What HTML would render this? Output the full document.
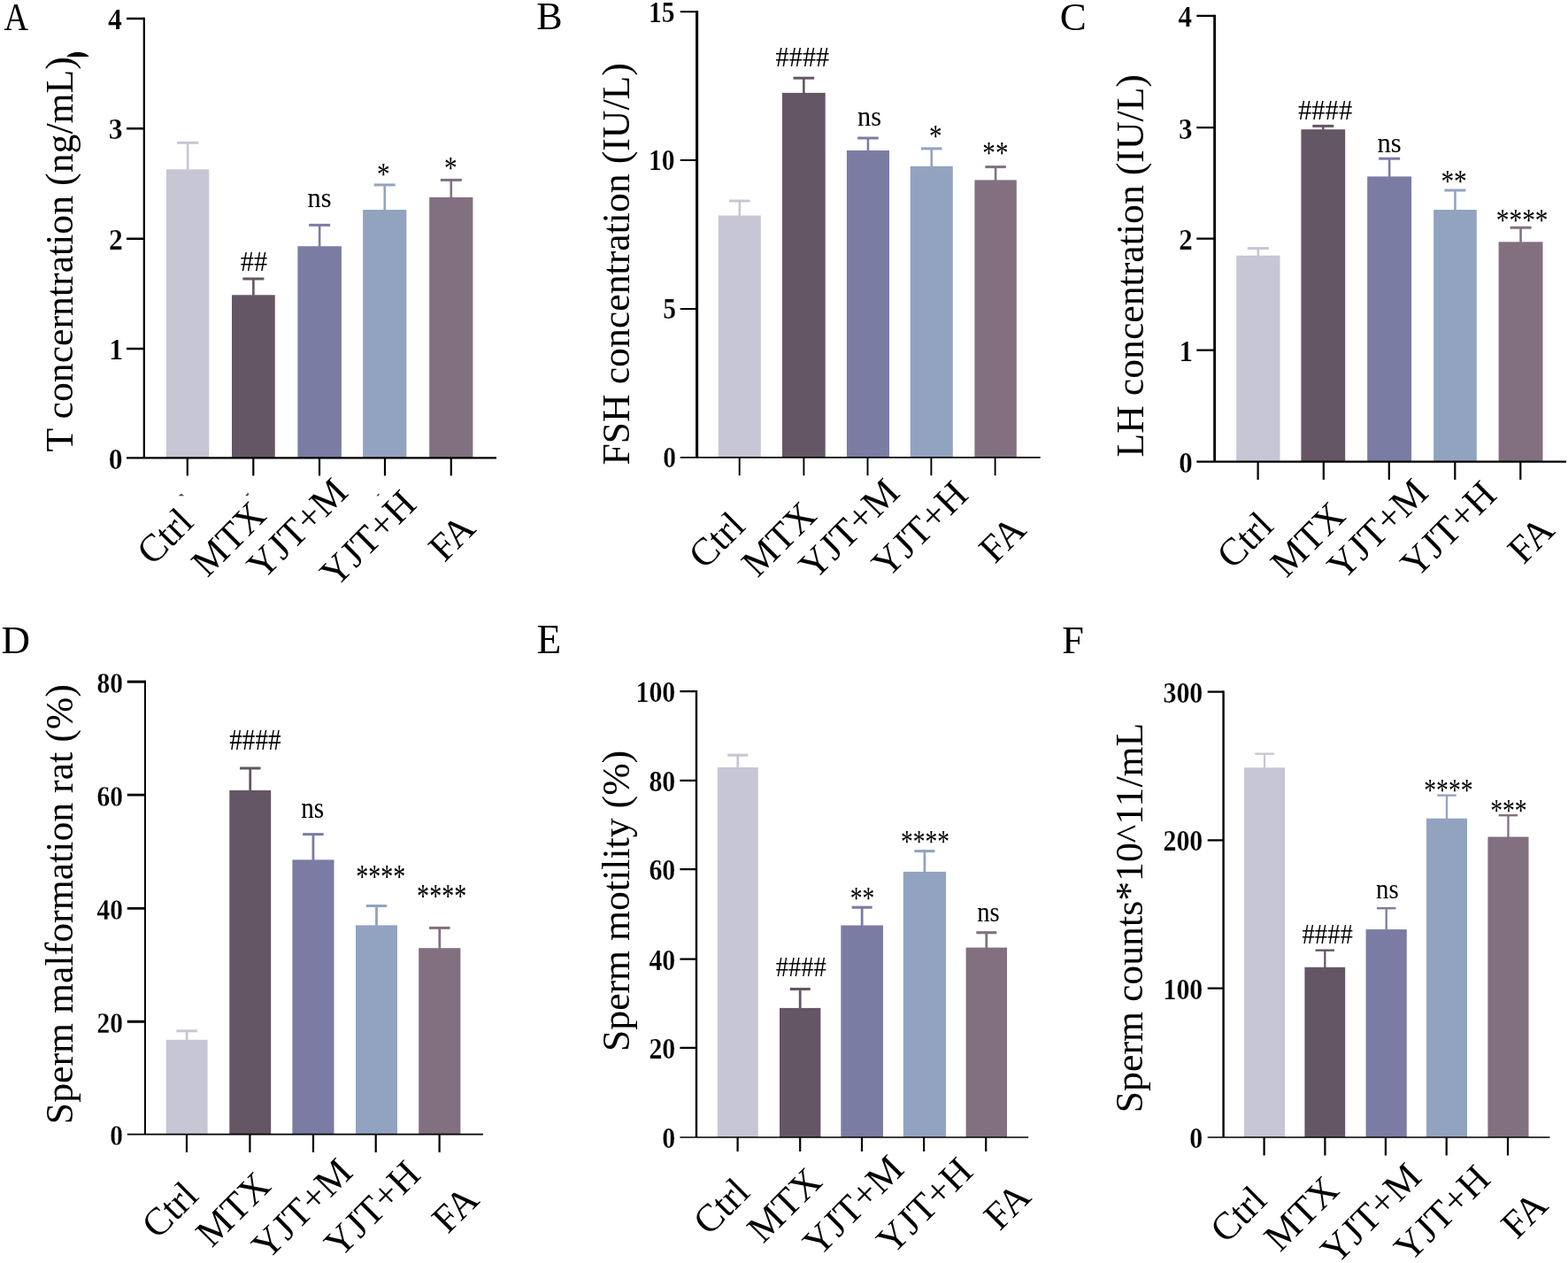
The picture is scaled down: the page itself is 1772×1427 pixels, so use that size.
<!DOCTYPE html>
<html lang="en"><head><meta charset="utf-8"><title>Figure</title>
<style>html,body{margin:0;padding:0;background:#fff}svg{display:block}text{font-family:"Liberation Serif",serif;fill:#000}.b{font-weight:bold;stroke:#fff;stroke-width:.25px}</style></head><body>
<svg width="1772" height="1427" viewBox="0 0 1772 1427">
<rect width="1772" height="1427" fill="#fff"/>
<g>
<rect x="188" y="191.3" width="48.3" height="326.1" fill="#c6c6d5"/>
<path d="M212.15 191.8V161.3" stroke="#c6c6d5" stroke-width="2.6" fill="none"/>
<path d="M200.15 161.3H224.15" stroke="#c6c6d5" stroke-width="3" fill="none"/>
<rect x="262" y="333.3" width="48.75" height="184.1" fill="#645664"/>
<path d="M286.38 333.8V315" stroke="#645664" stroke-width="2.6" fill="none"/>
<path d="M274.38 315H298.38" stroke="#645664" stroke-width="3" fill="none"/>
<rect x="336.4" y="278.2" width="49.5" height="239.2" fill="#7b7ca3"/>
<path d="M361.15 278.7V254.3" stroke="#7b7ca3" stroke-width="2.6" fill="none"/>
<path d="M349.15 254.3H373.15" stroke="#7b7ca3" stroke-width="3" fill="none"/>
<rect x="410.1" y="237" width="49.3" height="280.4" fill="#92a3c0"/>
<path d="M434.75 237.5V208.9" stroke="#92a3c0" stroke-width="2.6" fill="none"/>
<path d="M422.75 208.9H446.75" stroke="#92a3c0" stroke-width="3" fill="none"/>
<rect x="485.2" y="222.9" width="49.2" height="294.5" fill="#827080"/>
<path d="M509.8 223.4V203.4" stroke="#827080" stroke-width="2.6" fill="none"/>
<path d="M497.8 203.4H521.8" stroke="#827080" stroke-width="3" fill="none"/>
<path d="M162.8 19.75V517.4" stroke="#000" stroke-width="2.2" fill="none"/>
<path d="M143 517.4H561" stroke="#000" stroke-width="2.1" fill="none"/>
<path d="M143 393.9H162.8M143 269.7H162.8M143 145.2H162.8M143 21H162.8" stroke="#000" stroke-width="2.5" fill="none"/>
<path d="M211.8 517.4V537.5M286.3 517.4V537.5M361 517.4V537.5M435 517.4V537.5M509.8 517.4V537.5" stroke="#000" stroke-width="2.2" fill="none"/>
<text class="b" transform="translate(122.75 529.52) scale(0.93 1)" font-size="34">0</text>
<text class="b" transform="translate(123.17 406.02) scale(0.93 1)" font-size="34">1</text>
<text class="b" transform="translate(122.96 281.82) scale(0.93 1)" font-size="34">2</text>
<text class="b" transform="translate(122.64 157.32) scale(0.93 1)" font-size="34">3</text>
<text class="b" transform="translate(122.12 33.12) scale(0.93 1)" font-size="34">4</text>
<text transform="translate(271.8 305.95) scale(0.9412 1)" font-size="32.3">##</text>
<text transform="translate(347.47 234.43) scale(0.9412 1)" font-size="32.3">ns</text>
<text transform="translate(425.91 209.25) scale(0.8067 1)" font-size="36.18">*</text>
<text transform="translate(501.91 202.45) scale(0.8067 1)" font-size="36.18">*</text>
<text transform="translate(4.62 33.6) scale(0.8634 1)" font-size="44.09">A</text>
<text transform="translate(82.2 510.4) rotate(-90)" font-size="43.75">T concerntration (ng/mL)</text>
<path d="M75.4 63.9C80 57.2 96 57.2 100.6 63.9Z" fill="#000"/>
<path d="M201.6 560.3l3.2-2.6 3.6 2.6zM277.3 560l2.6-3 1.6 .6-1.4 2.6zM425.4 560.2l2.4-2.4 1.2.6-1.6 2.2z" fill="#444"/>
<text transform="translate(172.42 640.33) rotate(-45)" font-size="43.75">Ctrl</text>
<text transform="translate(234.14 653.41) rotate(-45)" font-size="43.75">MTX</text>
<text transform="translate(297.11 656.45) rotate(-45)" font-size="43.75">YJT+M</text>
<text transform="translate(379.59 664.93) rotate(-45)" font-size="43.75">YJT+H</text>
<text transform="translate(502.21 636.36) rotate(-45)" font-size="43.75">FA</text>
</g>
<g>
<rect x="811.8" y="243.5" width="48" height="273.4" fill="#c6c6d5"/>
<path d="M835.8 244V227" stroke="#c6c6d5" stroke-width="2.6" fill="none"/>
<path d="M824.05 227H847.55" stroke="#c6c6d5" stroke-width="3" fill="none"/>
<rect x="884" y="104.9" width="48.7" height="412" fill="#645664"/>
<path d="M908.35 105.4V88.2" stroke="#645664" stroke-width="2.6" fill="none"/>
<path d="M896.6 88.2H920.1" stroke="#645664" stroke-width="3" fill="none"/>
<rect x="956.9" y="170" width="48.1" height="346.9" fill="#7b7ca3"/>
<path d="M980.95 170.5V156" stroke="#7b7ca3" stroke-width="2.6" fill="none"/>
<path d="M969.2 156H992.7" stroke="#7b7ca3" stroke-width="3" fill="none"/>
<rect x="1028.7" y="187.8" width="48.1" height="329.1" fill="#92a3c0"/>
<path d="M1052.75 188.3V167.9" stroke="#92a3c0" stroke-width="2.6" fill="none"/>
<path d="M1041 167.9H1064.5" stroke="#92a3c0" stroke-width="3" fill="none"/>
<rect x="1101.4" y="203.4" width="47.4" height="313.5" fill="#827080"/>
<path d="M1125.1 203.9V188.6" stroke="#827080" stroke-width="2.6" fill="none"/>
<path d="M1113.35 188.6H1136.85" stroke="#827080" stroke-width="3" fill="none"/>
<path d="M787.6 12.2V516.9" stroke="#000" stroke-width="3.1" fill="none"/>
<path d="M768.7 516.9H1175.7" stroke="#000" stroke-width="1.6" fill="none"/>
<path d="M768.7 348.9H787.6M768.7 180.9H787.6M768.7 13.2H787.6" stroke="#000" stroke-width="2" fill="none"/>
<path d="M835.7 516.9V537.2M908.4 516.9V537.2M980.5 516.9V537.2M1052.4 516.9V537.2M1124.6 516.9V537.2" stroke="#000" stroke-width="1.9" fill="none"/>
<text class="b" transform="translate(749.3 528.49) scale(0.88 1)" font-size="33.6">0</text>
<text class="b" transform="translate(749.3 360.49) scale(0.88 1)" font-size="33.6">5</text>
<text class="b" transform="translate(732.92 192.49) scale(0.88 1)" font-size="33.6">10</text>
<text class="b" transform="translate(732.92 24.79) scale(0.88 1)" font-size="33.6">15</text>
<text transform="translate(876.6 74.95) scale(0.9381 1)" font-size="32.3">####</text>
<text transform="translate(969.07 141.58) scale(0.9381 1)" font-size="32.3">ns</text>
<text transform="translate(1049.93 165.95) scale(0.8041 1)" font-size="36.18">*</text>
<text transform="translate(1110.36 185.15) scale(0.8041 1)" font-size="36.18">**</text>
<text transform="translate(606.15 33.3)" font-size="44.01">B</text>
<text transform="translate(711 525.57) rotate(-90)" font-size="43.75">FSH concentration (IU/L)</text>
<text transform="translate(795.92 644.43) rotate(-45)" font-size="43.75">Ctrl</text>
<text transform="translate(856.09 653.71) rotate(-45)" font-size="43.75">MTX</text>
<text transform="translate(920.56 656.85) rotate(-45)" font-size="43.75">YJT+M</text>
<text transform="translate(1003.09 654.53) rotate(-45)" font-size="43.75">YJT+H</text>
<text transform="translate(1124.31 638.06) rotate(-45)" font-size="43.75">FA</text>
</g>
<g>
<rect x="1397.2" y="288.7" width="49.3" height="232.9" fill="#c6c6d5"/>
<path d="M1421.85 289.2V280.6" stroke="#c6c6d5" stroke-width="2.6" fill="none"/>
<path d="M1409.85 280.6H1433.85" stroke="#c6c6d5" stroke-width="3" fill="none"/>
<rect x="1470.4" y="146.2" width="49.8" height="375.4" fill="#645664"/>
<path d="M1495.3 146.7V142.4" stroke="#645664" stroke-width="2.6" fill="none"/>
<path d="M1483.3 142.4H1507.3" stroke="#645664" stroke-width="3" fill="none"/>
<rect x="1545.2" y="199.4" width="49.9" height="322.2" fill="#7b7ca3"/>
<path d="M1570.15 199.9V179.2" stroke="#7b7ca3" stroke-width="2.6" fill="none"/>
<path d="M1558.15 179.2H1582.15" stroke="#7b7ca3" stroke-width="3" fill="none"/>
<rect x="1620.1" y="237" width="48.7" height="284.6" fill="#92a3c0"/>
<path d="M1644.45 237.5V215" stroke="#92a3c0" stroke-width="2.6" fill="none"/>
<path d="M1632.45 215H1656.45" stroke="#92a3c0" stroke-width="3" fill="none"/>
<rect x="1693.6" y="273.3" width="49.9" height="248.3" fill="#827080"/>
<path d="M1718.55 273.8V257.2" stroke="#827080" stroke-width="2.6" fill="none"/>
<path d="M1706.55 257.2H1730.55" stroke="#827080" stroke-width="3" fill="none"/>
<path d="M1372.6 16.7V521.6" stroke="#000" stroke-width="2.8" fill="none"/>
<path d="M1352.3 521.6H1770" stroke="#000" stroke-width="2.1" fill="none"/>
<path d="M1352.3 395.6H1372.6M1352.3 269.7H1372.6M1352.3 144.2H1372.6M1352.3 17.8H1372.6" stroke="#000" stroke-width="2.2" fill="none"/>
<path d="M1421.6 521.6V541.9M1495.8 521.6V541.9M1569.8 521.6V541.9M1644.3 521.6V541.9M1718.3 521.6V541.9" stroke="#000" stroke-width="2.2" fill="none"/>
<text class="b" transform="translate(1332.16 533.92) scale(0.91 1)" font-size="34">0</text>
<text class="b" transform="translate(1332.58 407.92) scale(0.91 1)" font-size="34">1</text>
<text class="b" transform="translate(1332.37 282.02) scale(0.91 1)" font-size="34">2</text>
<text class="b" transform="translate(1332.06 156.52) scale(0.91 1)" font-size="34">3</text>
<text class="b" transform="translate(1331.55 30.12) scale(0.91 1)" font-size="34">4</text>
<text transform="translate(1467 135) scale(0.9474 1)" font-size="32.3">####</text>
<text transform="translate(1556.54 171.93) scale(0.9474 1)" font-size="32.3">ns</text>
<text transform="translate(1628.41 217) scale(0.812 1)" font-size="36.18">**</text>
<text transform="translate(1690.78 261.15) scale(0.812 1)" font-size="36.18">****</text>
<text transform="translate(1197.65 34.1)" font-size="44.99">C</text>
<text transform="translate(1291.8 516.53) rotate(-90)" font-size="43.75">LH concentration (IU/L)</text>
<text transform="translate(1393.07 644.43) rotate(-45)" font-size="43.75">Ctrl</text>
<text transform="translate(1453.74 653.96) rotate(-45)" font-size="43.75">MTX</text>
<text transform="translate(1517.71 657.1) rotate(-45)" font-size="43.75">YJT+M</text>
<text transform="translate(1600.39 654.53) rotate(-45)" font-size="43.75">YJT+H</text>
<text transform="translate(1721.71 638.66) rotate(-45)" font-size="43.75">FA</text>
</g>
<g>
<rect x="187.7" y="1174.8" width="46.9" height="106.8" fill="#c6c6d5"/>
<path d="M211.15 1175.3V1164.8" stroke="#c6c6d5" stroke-width="2.8" fill="none"/>
<path d="M199.4 1164.8H222.9" stroke="#c6c6d5" stroke-width="3" fill="none"/>
<rect x="259.3" y="892.9" width="46.9" height="388.7" fill="#645664"/>
<path d="M282.75 893.4V868" stroke="#645664" stroke-width="2.8" fill="none"/>
<path d="M271 868H294.5" stroke="#645664" stroke-width="3" fill="none"/>
<rect x="330.4" y="971.4" width="47.1" height="310.2" fill="#7b7ca3"/>
<path d="M353.95 971.9V942.6" stroke="#7b7ca3" stroke-width="2.8" fill="none"/>
<path d="M342.2 942.6H365.7" stroke="#7b7ca3" stroke-width="3" fill="none"/>
<rect x="402" y="1045.4" width="47" height="236.2" fill="#92a3c0"/>
<path d="M425.5 1045.9V1023.5" stroke="#92a3c0" stroke-width="2.8" fill="none"/>
<path d="M413.75 1023.5H437.25" stroke="#92a3c0" stroke-width="3" fill="none"/>
<rect x="473.2" y="1071.2" width="47.2" height="210.4" fill="#827080"/>
<path d="M496.8 1071.7V1048.4" stroke="#827080" stroke-width="2.8" fill="none"/>
<path d="M485.05 1048.4H508.55" stroke="#827080" stroke-width="3" fill="none"/>
<path d="M164 768.75V1281.6" stroke="#000" stroke-width="2" fill="none"/>
<path d="M143.8 1281.6H545.9" stroke="#000" stroke-width="1.9" fill="none"/>
<path d="M143.8 1154.3H164M143.8 1026.4H164M143.8 898.1H164M143.8 770.2H164" stroke="#000" stroke-width="2.9" fill="none"/>
<path d="M211 1281.6V1302M282.4 1281.6V1302M354 1281.6V1302M424.7 1281.6V1302M496.6 1281.6V1302" stroke="#000" stroke-width="2.2" fill="none"/>
<text class="b" transform="translate(124.18 1294.15) scale(0.87 1)" font-size="33.8">0</text>
<text class="b" transform="translate(109.47 1166.85) scale(0.87 1)" font-size="33.8">20</text>
<text class="b" transform="translate(109.47 1038.95) scale(0.87 1)" font-size="33.8">40</text>
<text class="b" transform="translate(109.47 910.65) scale(0.87 1)" font-size="33.8">60</text>
<text class="b" transform="translate(109.47 782.75) scale(0.87 1)" font-size="33.8">80</text>
<text transform="translate(259.25 847.47) scale(0.8538 1)" font-size="34.2">####</text>
<text transform="translate(340.15 923.77) scale(0.8538 1)" font-size="34.2">ns</text>
<text transform="translate(402.22 1002.85) scale(0.7318 1)" font-size="38.3">****</text>
<text transform="translate(471.12 1024.85) scale(0.7318 1)" font-size="38.3">****</text>
<text transform="translate(1.41 738.11)" font-size="44.96">D</text>
<text transform="translate(82.3 1270.14) rotate(-90)" font-size="43.75">Sperm malformation rat (%)</text>
<text transform="translate(177.92 1401.18) rotate(-45)" font-size="43.75">Ctrl</text>
<text transform="translate(239.29 1410.86) rotate(-45)" font-size="43.75">MTX</text>
<text transform="translate(302.36 1425) rotate(-45)" font-size="43.75">YJT+M</text>
<text transform="translate(384.29 1422.53) rotate(-45)" font-size="43.75">YJT+H</text>
<text transform="translate(506.01 1395.06) rotate(-45)" font-size="43.75">FA</text>
</g>
<g>
<rect x="810.8" y="867" width="46" height="418" fill="#c6c6d5"/>
<path d="M833.8 867.5V853.2" stroke="#c6c6d5" stroke-width="2.8" fill="none"/>
<path d="M822.3 853.2H845.3" stroke="#c6c6d5" stroke-width="3.1" fill="none"/>
<rect x="881" y="1138.9" width="46.4" height="146.1" fill="#645664"/>
<path d="M904.2 1139.4V1117.5" stroke="#645664" stroke-width="2.8" fill="none"/>
<path d="M892.7 1117.5H915.7" stroke="#645664" stroke-width="3.1" fill="none"/>
<rect x="950.3" y="1045.5" width="47.7" height="239.5" fill="#7b7ca3"/>
<path d="M974.15 1046V1025.2" stroke="#7b7ca3" stroke-width="2.8" fill="none"/>
<path d="M962.65 1025.2H985.65" stroke="#7b7ca3" stroke-width="3.1" fill="none"/>
<rect x="1020.8" y="984.9" width="48.2" height="300.1" fill="#92a3c0"/>
<path d="M1044.9 985.4V961.6" stroke="#92a3c0" stroke-width="2.8" fill="none"/>
<path d="M1033.4 961.6H1056.4" stroke="#92a3c0" stroke-width="3.1" fill="none"/>
<rect x="1091.6" y="1070.6" width="46.4" height="214.4" fill="#827080"/>
<path d="M1114.8 1071.1V1053.7" stroke="#827080" stroke-width="2.8" fill="none"/>
<path d="M1103.3 1053.7H1126.3" stroke="#827080" stroke-width="3.1" fill="none"/>
<path d="M787 780.1V1285" stroke="#000" stroke-width="2.4" fill="none"/>
<path d="M768.4 1285H1162.2" stroke="#000" stroke-width="1.7" fill="none"/>
<path d="M768.4 1183.8H787M768.4 1083.6H787M768.4 982.2H787M768.4 881.8H787M768.4 781.2H787" stroke="#000" stroke-width="2.2" fill="none"/>
<path d="M833.6 1285V1301M904.2 1285V1301M974 1285V1301M1044.1 1285V1301M1114.2 1285V1301" stroke="#000" stroke-width="2.2" fill="none"/>
<text class="b" transform="translate(748.34 1297.12) scale(0.88 1)" font-size="34">0</text>
<text class="b" transform="translate(733.38 1195.92) scale(0.88 1)" font-size="34">20</text>
<text class="b" transform="translate(733.38 1095.72) scale(0.88 1)" font-size="34">40</text>
<text class="b" transform="translate(733.38 994.32) scale(0.88 1)" font-size="34">60</text>
<text class="b" transform="translate(733.38 893.92) scale(0.88 1)" font-size="34">80</text>
<text class="b" transform="translate(718.42 793.32) scale(0.88 1)" font-size="34">100</text>
<text transform="translate(876.65 1102.75) scale(0.8854 1)" font-size="32.3">####</text>
<text transform="translate(960.68 1027.25) scale(0.759 1)" font-size="36.18">**</text>
<text transform="translate(1018.1 962.7) scale(0.759 1)" font-size="36.18">****</text>
<text transform="translate(1104.31 1040.78) scale(0.8854 1)" font-size="32.3">ns</text>
<text transform="translate(606.42 738.32)" font-size="45.37">E</text>
<text transform="translate(710.7 1188.08) rotate(-90)" font-size="43.75">Sperm motility (%)</text>
<text transform="translate(801.17 1397.18) rotate(-45)" font-size="43.75">Ctrl</text>
<text transform="translate(862.24 1406.06) rotate(-45)" font-size="43.75">MTX</text>
<text transform="translate(925.21 1421.45) rotate(-45)" font-size="43.75">YJT+M</text>
<text transform="translate(1008.54 1418.88) rotate(-45)" font-size="43.75">YJT+H</text>
<text transform="translate(1129.86 1391.66) rotate(-45)" font-size="43.75">FA</text>
</g>
<g>
<rect x="1406" y="867.3" width="46.1" height="417.7" fill="#c6c6d5"/>
<path d="M1429.05 867.8V851.7" stroke="#c6c6d5" stroke-width="2.3" fill="none"/>
<path d="M1418.3 851.7H1439.8" stroke="#c6c6d5" stroke-width="2.4" fill="none"/>
<rect x="1474.4" y="1092.8" width="45.8" height="192.2" fill="#645664"/>
<path d="M1497.3 1093.3V1073.7" stroke="#645664" stroke-width="2.3" fill="none"/>
<path d="M1486.55 1073.7H1508.05" stroke="#645664" stroke-width="2.4" fill="none"/>
<rect x="1543.6" y="1050.1" width="46.2" height="234.9" fill="#7b7ca3"/>
<path d="M1566.7 1050.6V1026.2" stroke="#7b7ca3" stroke-width="2.3" fill="none"/>
<path d="M1555.95 1026.2H1577.45" stroke="#7b7ca3" stroke-width="2.4" fill="none"/>
<rect x="1612" y="924.7" width="46" height="360.3" fill="#92a3c0"/>
<path d="M1635 925.2V898.6" stroke="#92a3c0" stroke-width="2.3" fill="none"/>
<path d="M1624.25 898.6H1645.75" stroke="#92a3c0" stroke-width="2.4" fill="none"/>
<rect x="1681.4" y="945.5" width="46.1" height="339.5" fill="#827080"/>
<path d="M1704.45 946V921.2" stroke="#827080" stroke-width="2.3" fill="none"/>
<path d="M1693.7 921.2H1715.2" stroke="#827080" stroke-width="2.4" fill="none"/>
<path d="M1382.6 780.5V1285" stroke="#000" stroke-width="2.4" fill="none"/>
<path d="M1364.7 1285H1751.5" stroke="#000" stroke-width="1.7" fill="none"/>
<path d="M1364.7 1116.6H1382.6M1364.7 949.3H1382.6M1364.7 781.6H1382.6" stroke="#000" stroke-width="2.2" fill="none"/>
<path d="M1428.6 1285V1305.4M1497.4 1285V1305.4M1565.9 1285V1305.4M1634.7 1285V1305.4M1704 1285V1305.4" stroke="#000" stroke-width="2.2" fill="none"/>
<text class="b" transform="translate(1344.34 1297.12) scale(0.88 1)" font-size="34">0</text>
<text class="b" transform="translate(1314.42 1128.72) scale(0.88 1)" font-size="34">100</text>
<text class="b" transform="translate(1314.42 961.42) scale(0.88 1)" font-size="34">200</text>
<text class="b" transform="translate(1314.42 793.72) scale(0.88 1)" font-size="34">300</text>
<text transform="translate(1471.4 1065.87) scale(0.8862 1)" font-size="32.5">####</text>
<text transform="translate(1555.03 1014.57) scale(0.8862 1)" font-size="32.5">ns</text>
<text transform="translate(1609.26 905.26) scale(0.7596 1)" font-size="36.4">****</text>
<text transform="translate(1684.22 927.91) scale(0.7596 1)" font-size="36.4">***</text>
<text transform="translate(1200.37 737.97)" font-size="44.29">F</text>
<text transform="translate(1290.6 1257.23) rotate(-90)" font-size="43.75">Sperm counts*10^11/mL</text>
<text transform="translate(1385.52 1406.28) rotate(-45)" font-size="43.75">Ctrl</text>
<text transform="translate(1446.59 1415.76) rotate(-45)" font-size="43.75">MTX</text>
<text transform="translate(1510.31 1430.3) rotate(-45)" font-size="43.75">YJT+M</text>
<text transform="translate(1593.24 1427.48) rotate(-45)" font-size="43.75">YJT+H</text>
<text transform="translate(1714.21 1401.36) rotate(-45)" font-size="43.75">FA</text>
</g>
</svg></body></html>
